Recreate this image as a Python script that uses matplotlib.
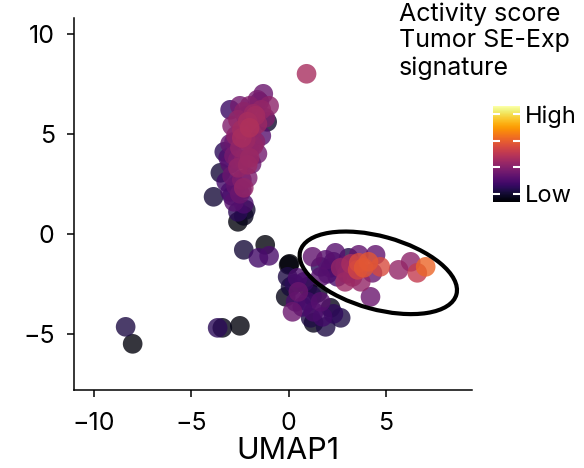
import numpy as np
import matplotlib.pyplot as plt
from matplotlib.patches import Ellipse

plt.rcParams['font.family'] = ['Inter', 'DejaVu Sans']

# UMAP coordinates and activity score per cell
# upper cluster
upper_x = [-1.3, -1.0, -1.6, -1.4, -2.0, -1.8, -2.3, -3.0, -1.2, -2.6, -2.1, -1.6,
           -2.9, -2.4, -1.9, -1.1, -2.7, -2.2, -1.7, -3.0, -2.5, -2.0, -1.6, -3.3,
           -2.8, -2.3, -1.9, -3.0, -2.6, -2.1, -3.5, -2.9, -2.4, -3.2, -2.7, -2.3,
           -3.0, -2.5, -3.85, -2.8, -2.3, -2.6, -2.3, -2.6, -2.2, -1.5, -2.2, -2.0,
           -2.4, -1.8, -2.6, -2.0, -2.8, -3.1, -2.4, -2.9, -1.7, -2.5, -1.4, -2.1]
upper_y = [7.0, 6.4, 6.7, 6.2, 6.4, 6.0, 6.1, 6.2, 5.8, 5.7, 5.6, 5.5,
           5.4, 5.2, 5.1, 5.6, 4.9, 4.7, 4.6, 4.5, 4.3, 4.2, 4.0, 4.1,
           3.9, 3.7, 3.5, 3.5, 3.3, 3.45, 3.05, 2.9, 2.7, 2.6, 2.4, 2.3,
           2.1, 2.0, 1.85, 1.6, 1.5, 1.1, 0.9, 0.6, 1.2, 6.6, 5.9, 5.3,
           4.8, 4.4, 3.7, 3.8, 4.6, 3.8, 2.2, 1.9, 5.9, 6.4, 4.9, 2.8]
upper_c = [0.30, 0.38, 0.33, 0.40, 0.36, 0.42, 0.38, 0.18, 0.35, 0.40, 0.45, 0.42,
           0.35, 0.44, 0.40, 0.08, 0.38, 0.42, 0.38, 0.28, 0.40, 0.36, 0.32, 0.15,
           0.33, 0.38, 0.30, 0.25, 0.40, 0.42, 0.10, 0.30, 0.35, 0.20, 0.28, 0.40,
           0.22, 0.30, 0.10, 0.25, 0.22, 0.15, 0.05, 0.02, 0.08, 0.28, 0.34, 0.47,
           0.45, 0.40, 0.35, 0.42, 0.30, 0.22, 0.26, 0.18, 0.44, 0.32, 0.25, 0.34]

# scattered cells between clusters and outliers
mid_x = [-2.3, -1.2, -1.55, -1.0, 0.05, 0.92, -8.36, -8.0, -3.64, -3.4, -2.5]
mid_y = [-0.8, -0.55, -1.2, -1.1, -1.5, 8.0, -4.65, -5.5, -4.7, -4.7, -4.6]
mid_c = [0.10, 0.02, 0.20, 0.22, 0.01, 0.45, 0.12, 0.02, 0.15, 0.04, 0.02]

# lower cluster
lower_x = [0.0, -0.05, 0.46, 0.1, 0.5, 0.97, 0.2, 0.7, 1.28, 1.64, 2.15, 1.13,
           1.74, 1.9, 2.67, -0.15, 0.36, 1.49, 0.97, 1.28, 0.3, 0.8, 1.2, 2.3]
lower_y = [-1.55, -2.15, -2.2, -2.65, -2.9, -2.65, -3.9, -3.65, -3.9, -3.4, -3.7, -4.2,
           -4.15, -4.65, -4.2, -3.15, -3.4, -2.95, -3.4, -4.45, -2.5, -2.4, -3.1, -4.0]
lower_c = [0.02, 0.12, 0.22, 0.10, 0.30, 0.05, 0.30, 0.20, 0.22, 0.25, 0.05, 0.12,
           0.20, 0.12, 0.12, 0.04, 0.22, 0.06, 0.20, 0.05, 0.15, 0.18, 0.14, 0.16]

# circled cluster (high activity)
right_x = [1.23, 2.4, 1.64, 2.15, 2.67, 3.08, 3.6, 3.6, 4.1, 3.54, 3.28, 3.7,
           4.3, 4.7, 4.46, 5.64, 6.26, 6.6, 7.03, 4.2, 1.64, 2.5, 2.9, 3.85,
           1.9, 2.3, 2.9, 3.2, 3.3, 2.0, 3.0]
right_y = [-1.15, -0.95, -1.65, -1.7, -1.7, -1.2, -1.05, -1.45, -1.4, -1.8, -2.15, -2.4,
           -1.95, -1.65, -1.05, -1.8, -1.4, -1.95, -1.65, -3.15, -2.15, -2.15, -2.4, -1.7,
           -1.3, -1.4, -1.6, -1.5, -1.8, -2.0, -2.0]
right_c = [0.28, 0.25, 0.15, 0.20, 0.40, 0.12, 0.28, 0.58, 0.62, 0.56, 0.42, 0.40,
           0.30, 0.58, 0.28, 0.40, 0.38, 0.52, 0.66, 0.30, 0.25, 0.22, 0.42, 0.62,
           0.25, 0.18, 0.30, 0.45, 0.40, 0.22, 0.35]

x = np.array(upper_x + mid_x + lower_x + right_x)
y = np.array(upper_y + mid_y + lower_y + right_y)
score = np.array(upper_c + mid_c + lower_c + right_c)
order = np.argsort(score)

fig = plt.figure(figsize=(5.84, 4.68), dpi=100)
ax = fig.add_axes([0.127, 0.167, 0.681, 0.795])

sc = ax.scatter(x[order], y[order], c=score[order], cmap='inferno', vmin=0, vmax=1,
                s=200, alpha=0.8, linewidths=0)

ax.add_patch(Ellipse((4.6, -1.95), width=8.3, height=3.65, angle=-15,
                     fill=False, lw=3, color='black'))

ax.set_xlim(-11, 9.4)
ax.set_ylim(-7.8, 10.8)
ax.set_xticks([-10, -5, 0, 5])
ax.set_yticks([-5, 0, 5, 10])
for s in ['top', 'right']:
    ax.spines[s].set_visible(False)
for s in ['left', 'bottom']:
    ax.spines[s].set_linewidth(1.1)
ax.tick_params(labelsize=18, length=5, width=1.1)
ax.tick_params(axis='x', pad=11)
ax.tick_params(axis='y', pad=9)
ax.set_xlabel('UMAP1', fontsize=22)
ax.xaxis.set_label_coords(0.538, -0.128)

# colour bar legend
cax = fig.add_axes([0.844, 0.568, 0.046, 0.205])
cb = fig.colorbar(sc, cax=cax)
cb.solids.set_alpha(1)
cb.outline.set_visible(False)
cb.set_ticks([0.09, 0.365, 0.64, 0.915])
cb.set_ticklabels(['Low', '', '', 'High'])
cax.tick_params(direction='in', left=True, right=True, color='white',
                length=5, width=1.5, labelsize=17, pad=4)

fig.text(0.683, 0.995, 'Activity score\nTumor SE-Exp\nsignature',
         fontsize=18, va='top', ha='left', linespacing=1.2)

fig.savefig('out.png', dpi=100)
